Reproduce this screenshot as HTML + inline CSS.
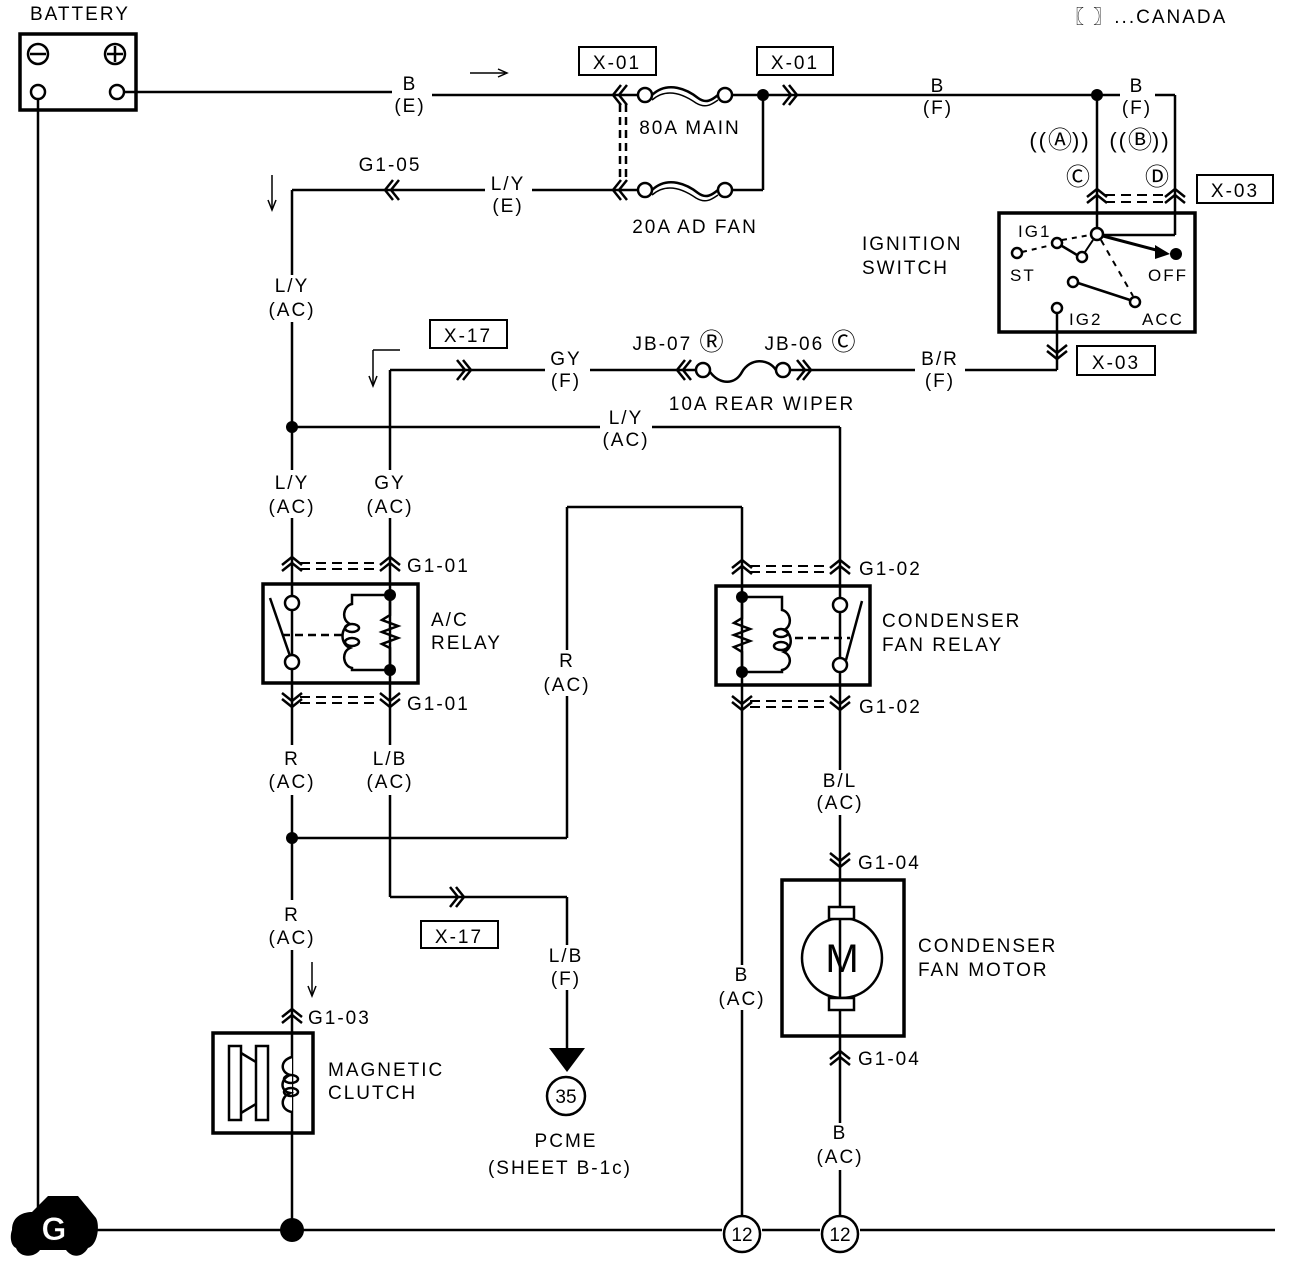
<!DOCTYPE html>
<html><head><meta charset="utf-8"><style>
html,body{margin:0;padding:0;background:#fff}
svg{display:block}
text{font-family:"Liberation Sans",sans-serif;font-size:19px;letter-spacing:2px;fill:#000}
.m{text-anchor:middle}
.c{font-family:"DejaVu Sans",sans-serif;font-size:24px;letter-spacing:0}
</style></head><body>
<svg width="1296" height="1262" viewBox="0 0 1296 1262" xmlns="http://www.w3.org/2000/svg">
<defs>
<g id="cu" fill="none" stroke="#000" stroke-width="2.5"><polyline points="-10,5 0,-3 10,5"/><polyline points="-10,11 0,3 10,11"/></g>
<g id="cd" fill="none" stroke="#000" stroke-width="2.5"><polyline points="-10,-5 0,3 10,-5"/><polyline points="-10,-11 0,-3 10,-11"/></g>
<g id="cl" fill="none" stroke="#000" stroke-width="2.5"><polyline points="5,-10 -3,0 5,10"/><polyline points="11,-10 3,0 11,10"/></g>
<g id="cr" fill="none" stroke="#000" stroke-width="2.5"><polyline points="-5,-10 3,0 -5,10"/><polyline points="-11,-10 -3,0 -11,10"/></g>
</defs>
<g stroke="#000" stroke-width="2.5" fill="none">
<rect x="20" y="34" width="116" height="76" stroke-width="3.5"/>
<circle cx="38" cy="92" r="7" fill="#fff"/><circle cx="117" cy="92" r="7" fill="#fff"/>
<circle cx="38" cy="54" r="10"/><line x1="30" y1="54" x2="46" y2="54"/>
<circle cx="115" cy="54" r="10"/><line x1="107" y1="54" x2="123" y2="54"/><line x1="115" y1="46" x2="115" y2="62"/>
<line x1="38" y1="99" x2="38" y2="1230"/>
<line x1="124" y1="92" x2="392" y2="92"/><line x1="432" y1="95" x2="612" y2="95"/>
<line x1="470" y1="73" x2="505" y2="73" stroke-width="1.5"/><polyline points="498,69 507,73 498,77" stroke-width="1.5"/>
<line x1="612" y1="95" x2="638" y2="95"/>
<circle cx="645" cy="95" r="7"/><circle cx="725" cy="95" r="7"/>
<path d="M652,95 C668,80 688,90 698,98 C706,104 712,100 718,95"/><path d="M652,100 C668,86 686,96 696,103 C706,109 712,104 718,100" stroke-width="1.5"/>
<line x1="732" y1="95" x2="1097" y2="95"/>
<line x1="763" y1="95" x2="763" y2="190"/>
<line x1="732" y1="190" x2="763" y2="190"/>
<circle cx="645" cy="190" r="7"/><circle cx="725" cy="190" r="7"/>
<path d="M652,190 C668,175 688,185 698,193 C706,199 712,195 718,190"/><path d="M652,195 C668,181 686,191 696,198 C706,204 712,199 718,195" stroke-width="1.5"/>
<line x1="612" y1="190" x2="638" y2="190"/>
<line x1="620" y1="104" x2="620" y2="180" stroke-dasharray="8,5"/><line x1="626" y1="104" x2="626" y2="180" stroke-dasharray="8,5"/>
<line x1="1097" y1="95" x2="1120" y2="95"/><line x1="1155" y1="95" x2="1175" y2="95"/>
<line x1="1175" y1="95" x2="1175" y2="235"/><line x1="1097" y1="95" x2="1097" y2="227"/>
<line x1="1175" y1="235" x2="1103" y2="235"/>
<line x1="292" y1="190" x2="485" y2="190"/><line x1="532" y1="190" x2="612" y2="190"/>
<line x1="272" y1="175" x2="272" y2="208" stroke-width="1.5"/><polyline points="268,200 272,210 276,200" stroke-width="1.5"/>
<line x1="292" y1="190" x2="292" y2="275"/><line x1="292" y1="322" x2="292" y2="470"/>
<line x1="292" y1="518" x2="292" y2="745"/><line x1="292" y1="795" x2="292" y2="900"/><line x1="292" y1="950" x2="292" y2="1230"/>
<line x1="292" y1="427" x2="600" y2="427"/><line x1="652" y1="427" x2="840" y2="427"/>
<line x1="840" y1="427" x2="840" y2="770"/><line x1="840" y1="815" x2="840" y2="1123"/><line x1="840" y1="1170" x2="840" y2="1216"/>
<line x1="567" y1="507" x2="742" y2="507"/><line x1="742" y1="507" x2="742" y2="965"/><line x1="742" y1="1010" x2="742" y2="1216"/>
<line x1="567" y1="507" x2="567" y2="650"/><line x1="567" y1="696" x2="567" y2="838"/>
<line x1="292" y1="838" x2="567" y2="838"/>
<line x1="390" y1="370" x2="390" y2="470"/><line x1="390" y1="518" x2="390" y2="745"/>
<line x1="390" y1="370" x2="545" y2="370"/><line x1="590" y1="370" x2="696" y2="370"/>
<circle cx="703" cy="370" r="7"/><circle cx="783" cy="370" r="7"/>
<path d="M710,372 C720,385 735,385 742,372 C750,358 768,358 776,370"/>
<line x1="790" y1="370" x2="915" y2="370"/><line x1="965" y1="370" x2="1057" y2="370"/>
<line x1="1057" y1="370" x2="1057" y2="313"/>
<line x1="373" y1="350" x2="373" y2="384" stroke-width="1.5"/><polyline points="369,376 373,386 377,376" stroke-width="1.5"/><line x1="373" y1="350" x2="400" y2="350" stroke-width="1.5"/>
<line x1="390" y1="795" x2="390" y2="897"/><line x1="390" y1="897" x2="567" y2="897"/><line x1="567" y1="897" x2="567" y2="945"/><line x1="567" y1="990" x2="567" y2="1050"/>
<line x1="95" y1="1230" x2="722" y2="1230"/><line x1="762" y1="1230" x2="820" y2="1230"/><line x1="860" y1="1230" x2="1275" y2="1230"/>
<rect x="263" y="584" width="155" height="99" stroke-width="3.5"/>
<circle cx="292" cy="603" r="7" fill="#fff"/><circle cx="292" cy="662" r="7" fill="#fff"/>
<line x1="270" y1="598" x2="290" y2="656"/>
<line x1="282" y1="635" x2="345" y2="635" stroke-dasharray="8,5"/>
<path d="M390,595 H352 V604 C343,606 341,620 350,624 C340,628 340,644 350,648 C341,652 343,666 352,668 V670 H390"/>
<ellipse cx="352" cy="628" rx="7" ry="4"/><ellipse cx="352" cy="642" rx="7" ry="4"/>
<polyline points="390,595 390,615 382,620 398,626 382,632 398,638 382,644 390,648 390,670"/>
<rect x="716" y="586" width="154" height="99" stroke-width="3.5"/>
<circle cx="840" cy="605" r="7" fill="#fff"/><circle cx="840" cy="665" r="7" fill="#fff"/>
<line x1="846" y1="660" x2="862" y2="601"/>
<line x1="795" y1="638" x2="850" y2="638" stroke-dasharray="8,5"/>
<path d="M742,597 H782 V610 C791,612 793,626 784,630 C793,634 793,648 784,652 C793,656 791,668 782,670 V672 H742"/>
<ellipse cx="781" cy="633" rx="7" ry="4"/><ellipse cx="781" cy="646" rx="7" ry="4"/>
<polyline points="742,597 742,618 734,623 750,629 734,635 750,641 734,647 742,652 742,672"/>
<g stroke-dasharray="10,6" stroke-width="2">
<line x1="300" y1="563" x2="380" y2="563"/><line x1="300" y1="569" x2="380" y2="569"/>
<line x1="300" y1="697" x2="380" y2="697"/><line x1="300" y1="703" x2="380" y2="703"/>
<line x1="750" y1="566" x2="830" y2="566"/><line x1="750" y1="572" x2="830" y2="572"/>
<line x1="750" y1="701" x2="830" y2="701"/><line x1="750" y1="707" x2="830" y2="707"/>
<line x1="1105" y1="195" x2="1165" y2="195"/><line x1="1105" y1="202" x2="1165" y2="202"/>
</g>
<rect x="782" y="880" width="122" height="156" stroke-width="3.5"/>
<circle cx="842" cy="958" r="40"/>
<rect x="829" y="907" width="25" height="12" fill="#fff"/><rect x="829" y="998" width="25" height="12" fill="#fff"/>
<rect x="213" y="1033" width="100" height="100" stroke-width="3.5"/>
<rect x="229" y="1046" width="12" height="74"/><rect x="256" y="1046" width="12" height="74"/>
<polyline points="241,1053 256,1062" /><polyline points="241,1113 256,1104"/>
<path d="M292,1057 C280,1060 280,1072 290,1075 C280,1079 280,1091 290,1093 C280,1097 280,1110 292,1112" fill="#fff"/>
<ellipse cx="291" cy="1079" rx="7" ry="4"/><ellipse cx="291" cy="1092" rx="7" ry="4"/>
<rect x="999" y="213" width="196" height="119" stroke-width="3.5"/>
<circle cx="1097" cy="234" r="6" fill="#fff"/>
<line x1="1103" y1="236" x2="1160" y2="251" stroke-width="3"/>
<circle cx="1057" cy="243" r="5" fill="#fff"/><circle cx="1017" cy="253" r="5" fill="#fff"/><circle cx="1082" cy="257" r="5" fill="#fff"/>
<line x1="1062" y1="246" x2="1077" y2="255"/>
<line x1="1022" y1="252" x2="1052" y2="245" stroke-dasharray="5,5" stroke-width="2"/>
<line x1="1062" y1="240" x2="1090" y2="235" stroke-dasharray="5,5" stroke-width="2"/>
<line x1="1093" y1="240" x2="1085" y2="252" stroke-width="2"/>
<circle cx="1073" cy="282" r="5" fill="#fff"/><circle cx="1135" cy="302" r="5" fill="#fff"/>
<line x1="1078" y1="283" x2="1130" y2="300"/>
<line x1="1101" y1="240" x2="1133" y2="296" stroke-dasharray="6,6" stroke-width="2"/>
<circle cx="1057" cy="308" r="5" fill="#fff"/>
</g>
<g fill="#000">
<circle cx="763" cy="95" r="6"/><circle cx="1097" cy="95" r="6"/>
<circle cx="292" cy="427" r="6"/><circle cx="292" cy="838" r="6"/>
<circle cx="390" cy="595" r="6"/><circle cx="390" cy="670" r="6"/>
<circle cx="742" cy="597" r="6"/><circle cx="742" cy="672" r="6"/>
<circle cx="292" cy="1230" r="12"/>
<circle cx="1176" cy="254" r="6"/><polygon points="1155,245 1170,254 1155,259"/>
<polygon points="549,1048 585,1048 567,1072"/>
<path d="M12,1230 C12,1215 25,1212 32,1212 L48,1196 H78 L96,1218 C100,1225 98,1245 88,1248 C82,1258 72,1258 66,1250 H40 C34,1258 20,1258 16,1248 C10,1245 10,1235 12,1230 Z"/>
</g>
<text x="55" y="1240" class="m" style="font-size:32px;font-weight:bold;fill:#fff;stroke:#000;stroke-width:0.5">G</text>
<g stroke="#000" stroke-width="2.5" fill="#fff">
<circle cx="742" cy="1234" r="18"/><circle cx="840" cy="1234" r="18"/><circle cx="566" cy="1096" r="19"/>
</g>
<text x="742" y="1241" class="m" style="letter-spacing:0">12</text>
<text x="840" y="1241" class="m" style="letter-spacing:0">12</text>
<text x="566" y="1103" class="m" style="letter-spacing:0">35</text>
<use href="#cl" x="616" y="95"/><use href="#cl" x="616" y="190"/><use href="#cr" x="794" y="95"/>
<use href="#cl" x="388" y="190"/>
<use href="#cr" x="468" y="370"/><use href="#cl" x="680" y="370"/><use href="#cr" x="808" y="370"/>
<use href="#cr" x="461" y="897"/>
<use href="#cu" x="292" y="560"/><use href="#cu" x="390" y="560"/>
<use href="#cd" x="292" y="704"/><use href="#cd" x="390" y="704"/>
<use href="#cu" x="742" y="563"/><use href="#cu" x="840" y="563"/>
<use href="#cd" x="742" y="707"/><use href="#cd" x="840" y="707"/>
<use href="#cd" x="840" y="864"/><use href="#cu" x="840" y="1054"/>
<use href="#cu" x="292" y="1012"/>
<use href="#cu" x="1097" y="192"/><use href="#cu" x="1175" y="192"/>
<use href="#cd" x="1057" y="356"/>
<g stroke="#000" stroke-width="2" fill="#fff">
<rect x="579" y="47" width="77" height="28"/><rect x="757" y="47" width="76" height="28"/>
<rect x="1197" y="175" width="76" height="28"/><rect x="1077" y="346" width="78" height="29"/>
<rect x="430" y="320" width="77" height="28"/><rect x="421" y="921" width="77" height="27"/>
</g>
<text x="617" y="69" class="m">X-01</text><text x="795" y="69" class="m">X-01</text>
<text x="1235" y="197" class="m">X-03</text><text x="1116" y="369" class="m">X-03</text>
<text x="468" y="342" class="m">X-17</text><text x="459" y="943" class="m">X-17</text>
<text x="30" y="20">BATTERY</text>
<text x="1065" y="23">〖 〗...CANADA</text>
<text x="410" y="90" class="m">B</text><text x="410" y="112" class="m">(E)</text>
<text x="690" y="134" class="m">80A MAIN</text>
<text x="695" y="233" class="m">20A AD FAN</text>
<text x="390" y="171" class="m">G1-05</text>
<text x="508" y="190" class="m">L/Y</text><text x="508" y="212" class="m">(E)</text>
<text x="938" y="92" class="m">B</text><text x="938" y="114" class="m">(F)</text>
<text x="1137" y="92" class="m">B</text><text x="1137" y="114" class="m">(F)</text>
<text x="1060" y="148" class="m" style="font-size:22px">((<tspan class="c">Ⓐ</tspan>))</text><text x="1140" y="148" class="m" style="font-size:22px">((<tspan class="c">Ⓑ</tspan>))</text>
<text x="1078" y="185" class="m c">Ⓒ</text><text x="1157" y="185" class="m c">Ⓓ</text>
<text x="862" y="250">IGNITION</text><text x="862" y="274">SWITCH</text>
<text x="1018" y="237" style="font-size:17px">IG1</text>
<text x="1010" y="281" style="font-size:17px">ST</text>
<text x="1148" y="281" style="font-size:17px">OFF</text>
<text x="1069" y="325" style="font-size:17px">IG2</text>
<text x="1142" y="325" style="font-size:17px">ACC</text>
<text x="292" y="292" class="m">L/Y</text><text x="292" y="316" class="m">(AC)</text>
<text x="566" y="365" class="m">GY</text><text x="566" y="387" class="m">(F)</text>
<text x="678" y="350" class="m">JB-07 <tspan class="c">Ⓡ</tspan></text><text x="810" y="350" class="m">JB-06 <tspan class="c">Ⓒ</tspan></text>
<text x="762" y="410" class="m">10A REAR WIPER</text>
<text x="940" y="365" class="m">B/R</text><text x="940" y="387" class="m">(F)</text>
<text x="626" y="424" class="m">L/Y</text><text x="626" y="446" class="m">(AC)</text>
<text x="292" y="489" class="m">L/Y</text><text x="292" y="513" class="m">(AC)</text>
<text x="390" y="489" class="m">GY</text><text x="390" y="513" class="m">(AC)</text>
<text x="407" y="572">G1-01</text><text x="407" y="710">G1-01</text>
<text x="431" y="626">A/C</text><text x="431" y="649">RELAY</text>
<text x="859" y="575">G1-02</text><text x="859" y="713">G1-02</text>
<text x="882" y="627">CONDENSER</text><text x="882" y="651">FAN RELAY</text>
<text x="567" y="667" class="m">R</text><text x="567" y="691" class="m">(AC)</text>
<text x="292" y="765" class="m">R</text><text x="292" y="788" class="m">(AC)</text>
<text x="390" y="765" class="m">L/B</text><text x="390" y="788" class="m">(AC)</text>
<text x="840" y="787" class="m">B/L</text><text x="840" y="809" class="m">(AC)</text>
<text x="858" y="869">G1-04</text><text x="858" y="1065">G1-04</text>
<text x="918" y="952">CONDENSER</text><text x="918" y="976">FAN MOTOR</text>
<text x="842" y="972" class="m" style="font-size:40px;letter-spacing:0">M</text>
<text x="292" y="921" class="m">R</text><text x="292" y="944" class="m">(AC)</text>
<line x1="312" y1="962" x2="312" y2="994" stroke="#000" stroke-width="1.5"/><polyline points="308,986 312,996 316,986" stroke="#000" stroke-width="1.5" fill="none"/>
<text x="308" y="1024">G1-03</text>
<text x="328" y="1076">MAGNETIC</text><text x="328" y="1099">CLUTCH</text>
<text x="566" y="962" class="m">L/B</text><text x="566" y="985" class="m">(F)</text>
<text x="742" y="981" class="m">B</text><text x="742" y="1005" class="m">(AC)</text>
<text x="840" y="1139" class="m">B</text><text x="840" y="1163" class="m">(AC)</text>
<text x="566" y="1147" class="m">PCME</text><text x="560" y="1174" class="m">(SHEET B-1c)</text>
</svg>
</body></html>
